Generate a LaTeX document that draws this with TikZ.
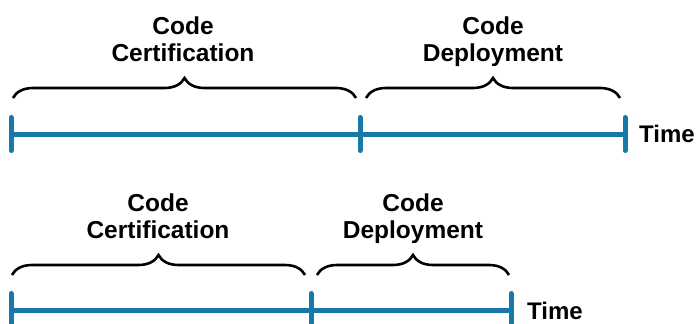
\documentclass[tikz,border=0pt]{standalone}
\usepackage{fontspec}
\setmainfont{Liberation Sans}
\usetikzlibrary{decorations.pathreplacing}
\definecolor{timeblue}{RGB}{22,121,168}

\begin{document}
\begin{tikzpicture}
[x=1pt,y=-1pt,%
  axis/.style={draw=timeblue,line width=5pt},%
  tickmark/.style={draw=timeblue,line width=5pt,line cap=round},%
  span/.style={draw,line width=2.6pt,decorate,decoration={brace,amplitude=20pt}},%
  phase/.style={align=center,anchor=south,inner sep=0pt,text depth=0pt,
    font=\fontsize{24.5}{27}\selectfont\bfseries},%
  timelabel/.style={anchor=base west,inner sep=0pt,font=\fontsize{24}{27}\selectfont\bfseries}]
\useasboundingbox (0,0) rectangle (697,324);
% upper time line
\coordinate (a1) at (11,134);
\coordinate (a2) at (360,134);
\coordinate (a3) at (625,134);
\draw[axis] (a1) -- (a3);
\foreach \t in {a1,a2,a3}
  \draw[tickmark] (\t) ++(0,-16.5) -- ++(0,33);
\coordinate (ba1) at (13,98);
\coordinate (ba2) at (356,98);
\coordinate (ba3) at (366,98);
\coordinate (ba4) at (620,98);
\draw[span] (ba1) -- (ba2);
\draw[span] (ba3) -- (ba4);
\node[phase] (certA) at (183,62) {Code\\Certification};
\node[phase] (deployA) at (493,62) {Code\\Deployment};
\node[timelabel] (timeA) at (639,142) {Time};
% lower time line
\coordinate (b1) at (11,310);
\coordinate (b2) at (311,310);
\coordinate (b3) at (511,310);
\draw[axis] (b1) -- (b3);
\foreach \t in {b1,b2,b3}
  \draw[tickmark] (\t) ++(0,-16.5) -- ++(0,33);
\coordinate (bb1) at (12,275);
\coordinate (bb2) at (305,275);
\coordinate (bb3) at (317,275);
\coordinate (bb4) at (509,275);
\draw[span] (bb1) -- (bb2);
\draw[span] (bb3) -- (bb4);
\node[phase] (certB) at (158,239) {Code\\Certification};
\node[phase] (deployB) at (413,239) {Code\\Deployment};
\node[timelabel] (timeB) at (527,319) {Time};
\end{tikzpicture}
\end{document}
